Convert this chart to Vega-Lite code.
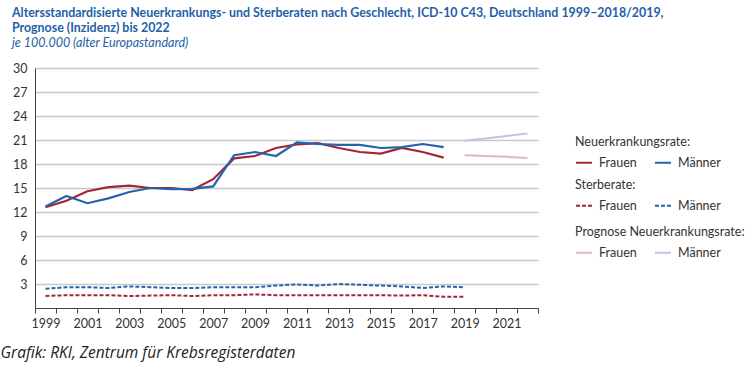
{
  "$schema": "https://vega.github.io/schema/vega-lite/v6.json",
  "autosize": {"type": "none"},
  "width": 503,
  "height": 240,
  "padding": {"left": 35, "top": 68, "right": 218, "bottom": 73},
  "background": "white",
  "config": {
    "view": {"stroke": null},
    "font": "Lato",
    "legend": {
      "orient": "none",
      "direction": "horizontal",
      "columns": 2,
      "symbolType": "stroke",
      "symbolSize": 256,
      "symbolStrokeWidth": 2,
      "labelFontSize": 12.5,
      "labelColor": "#333333",
      "labelOffset": 6,
      "columnPadding": 14,
      "titleFontSize": 12.5,
      "titleFontWeight": "normal",
      "titleColor": "#333333",
      "titlePadding": 5,
      "titleLimit": 250
    }
  },
  "title": {
    "text": ["Altersstandardisierte Neuerkrankungs- und Sterberaten nach Geschlecht, ICD-10 C43, Deutschland 1999–2018/2019,", "Prognose (Inzidenz) bis 2022"],
    "subtitle": "je 100.000 (alter Europastandard)",
    "anchor": "start",
    "frame": "group",
    "dx": -23,
    "offset": 13,
    "font": "Lato",
    "fontSize": 12.4,
    "fontWeight": "bold",
    "color": "#2460a7",
    "lineHeight": 15,
    "subtitleFont": "Lato",
    "subtitleFontSize": 12.5,
    "subtitleFontStyle": "italic",
    "subtitleColor": "#2460a7",
    "subtitlePadding": 2
  },
  "data": {
    "values": [
      {"year": 1999, "value": 12.6, "kind": "inc", "sex": "Frauen"},
      {"year": 2000, "value": 13.4, "kind": "inc", "sex": "Frauen"},
      {"year": 2001, "value": 14.6, "kind": "inc", "sex": "Frauen"},
      {"year": 2002, "value": 15.1, "kind": "inc", "sex": "Frauen"},
      {"year": 2003, "value": 15.3, "kind": "inc", "sex": "Frauen"},
      {"year": 2004, "value": 15.0, "kind": "inc", "sex": "Frauen"},
      {"year": 2005, "value": 15.0, "kind": "inc", "sex": "Frauen"},
      {"year": 2006, "value": 14.75, "kind": "inc", "sex": "Frauen"},
      {"year": 2007, "value": 16.1, "kind": "inc", "sex": "Frauen"},
      {"year": 2008, "value": 18.7, "kind": "inc", "sex": "Frauen"},
      {"year": 2009, "value": 19.0, "kind": "inc", "sex": "Frauen"},
      {"year": 2010, "value": 20.0, "kind": "inc", "sex": "Frauen"},
      {"year": 2011, "value": 20.45, "kind": "inc", "sex": "Frauen"},
      {"year": 2012, "value": 20.6, "kind": "inc", "sex": "Frauen"},
      {"year": 2013, "value": 20.0, "kind": "inc", "sex": "Frauen"},
      {"year": 2014, "value": 19.5, "kind": "inc", "sex": "Frauen"},
      {"year": 2015, "value": 19.3, "kind": "inc", "sex": "Frauen"},
      {"year": 2016, "value": 20.0, "kind": "inc", "sex": "Frauen"},
      {"year": 2017, "value": 19.5, "kind": "inc", "sex": "Frauen"},
      {"year": 2018, "value": 18.8, "kind": "inc", "sex": "Frauen"},
      {"year": 1999, "value": 12.7, "kind": "inc", "sex": "Männer"},
      {"year": 2000, "value": 14.0, "kind": "inc", "sex": "Männer"},
      {"year": 2001, "value": 13.1, "kind": "inc", "sex": "Männer"},
      {"year": 2002, "value": 13.7, "kind": "inc", "sex": "Männer"},
      {"year": 2003, "value": 14.5, "kind": "inc", "sex": "Männer"},
      {"year": 2004, "value": 15.0, "kind": "inc", "sex": "Männer"},
      {"year": 2005, "value": 14.85, "kind": "inc", "sex": "Männer"},
      {"year": 2006, "value": 14.9, "kind": "inc", "sex": "Männer"},
      {"year": 2007, "value": 15.2, "kind": "inc", "sex": "Männer"},
      {"year": 2008, "value": 19.1, "kind": "inc", "sex": "Männer"},
      {"year": 2009, "value": 19.5, "kind": "inc", "sex": "Männer"},
      {"year": 2010, "value": 19.0, "kind": "inc", "sex": "Männer"},
      {"year": 2011, "value": 20.7, "kind": "inc", "sex": "Männer"},
      {"year": 2012, "value": 20.5, "kind": "inc", "sex": "Männer"},
      {"year": 2013, "value": 20.4, "kind": "inc", "sex": "Männer"},
      {"year": 2014, "value": 20.4, "kind": "inc", "sex": "Männer"},
      {"year": 2015, "value": 20.0, "kind": "inc", "sex": "Männer"},
      {"year": 2016, "value": 20.1, "kind": "inc", "sex": "Männer"},
      {"year": 2017, "value": 20.5, "kind": "inc", "sex": "Männer"},
      {"year": 2018, "value": 20.1, "kind": "inc", "sex": "Männer"},
      {"year": 1999, "value": 1.5, "kind": "mort", "sex": "Frauen"},
      {"year": 2000, "value": 1.6, "kind": "mort", "sex": "Frauen"},
      {"year": 2001, "value": 1.6, "kind": "mort", "sex": "Frauen"},
      {"year": 2002, "value": 1.6, "kind": "mort", "sex": "Frauen"},
      {"year": 2003, "value": 1.5, "kind": "mort", "sex": "Frauen"},
      {"year": 2004, "value": 1.55, "kind": "mort", "sex": "Frauen"},
      {"year": 2005, "value": 1.6, "kind": "mort", "sex": "Frauen"},
      {"year": 2006, "value": 1.5, "kind": "mort", "sex": "Frauen"},
      {"year": 2007, "value": 1.6, "kind": "mort", "sex": "Frauen"},
      {"year": 2008, "value": 1.6, "kind": "mort", "sex": "Frauen"},
      {"year": 2009, "value": 1.7, "kind": "mort", "sex": "Frauen"},
      {"year": 2010, "value": 1.6, "kind": "mort", "sex": "Frauen"},
      {"year": 2011, "value": 1.6, "kind": "mort", "sex": "Frauen"},
      {"year": 2012, "value": 1.6, "kind": "mort", "sex": "Frauen"},
      {"year": 2013, "value": 1.6, "kind": "mort", "sex": "Frauen"},
      {"year": 2014, "value": 1.6, "kind": "mort", "sex": "Frauen"},
      {"year": 2015, "value": 1.6, "kind": "mort", "sex": "Frauen"},
      {"year": 2016, "value": 1.55, "kind": "mort", "sex": "Frauen"},
      {"year": 2017, "value": 1.6, "kind": "mort", "sex": "Frauen"},
      {"year": 2018, "value": 1.4, "kind": "mort", "sex": "Frauen"},
      {"year": 2019, "value": 1.4, "kind": "mort", "sex": "Frauen"},
      {"year": 1999, "value": 2.4, "kind": "mort", "sex": "Männer"},
      {"year": 2000, "value": 2.6, "kind": "mort", "sex": "Männer"},
      {"year": 2001, "value": 2.6, "kind": "mort", "sex": "Männer"},
      {"year": 2002, "value": 2.5, "kind": "mort", "sex": "Männer"},
      {"year": 2003, "value": 2.7, "kind": "mort", "sex": "Männer"},
      {"year": 2004, "value": 2.6, "kind": "mort", "sex": "Männer"},
      {"year": 2005, "value": 2.5, "kind": "mort", "sex": "Männer"},
      {"year": 2006, "value": 2.5, "kind": "mort", "sex": "Männer"},
      {"year": 2007, "value": 2.6, "kind": "mort", "sex": "Männer"},
      {"year": 2008, "value": 2.6, "kind": "mort", "sex": "Männer"},
      {"year": 2009, "value": 2.6, "kind": "mort", "sex": "Männer"},
      {"year": 2010, "value": 2.8, "kind": "mort", "sex": "Männer"},
      {"year": 2011, "value": 2.95, "kind": "mort", "sex": "Männer"},
      {"year": 2012, "value": 2.8, "kind": "mort", "sex": "Männer"},
      {"year": 2013, "value": 3.0, "kind": "mort", "sex": "Männer"},
      {"year": 2014, "value": 2.9, "kind": "mort", "sex": "Männer"},
      {"year": 2015, "value": 2.8, "kind": "mort", "sex": "Männer"},
      {"year": 2016, "value": 2.7, "kind": "mort", "sex": "Männer"},
      {"year": 2017, "value": 2.5, "kind": "mort", "sex": "Männer"},
      {"year": 2018, "value": 2.7, "kind": "mort", "sex": "Männer"},
      {"year": 2019, "value": 2.6, "kind": "mort", "sex": "Männer"},
      {"year": 2019, "value": 19.1, "kind": "prog", "sex": "Frauen"},
      {"year": 2020, "value": 19.0, "kind": "prog", "sex": "Frauen"},
      {"year": 2021, "value": 18.9, "kind": "prog", "sex": "Frauen"},
      {"year": 2022, "value": 18.75, "kind": "prog", "sex": "Frauen"},
      {"year": 2019, "value": 20.9, "kind": "prog", "sex": "Männer"},
      {"year": 2020, "value": 21.2, "kind": "prog", "sex": "Männer"},
      {"year": 2021, "value": 21.5, "kind": "prog", "sex": "Männer"},
      {"year": 2022, "value": 21.8, "kind": "prog", "sex": "Männer"}
    ]
  },
  "encoding": {
    "x": {
      "field": "year",
      "type": "ordinal",
      "scale": {
        "domain": [1999, 2000, 2001, 2002, 2003, 2004, 2005, 2006, 2007, 2008, 2009, 2010, 2011, 2012, 2013, 2014, 2015, 2016, 2017, 2018, 2019, 2020, 2021, 2022],
        "paddingInner": 0,
        "paddingOuter": 0
      },
      "axis": {
        "labelAngle": 0,
        "labelExpr": "datum.value % 2 == 1 ? datum.label : ''",
        "tickBand": "extent",
        "tickColor": "#444444",
        "tickSize": 5,
        "domainColor": "#444444",
        "labelColor": "#333333",
        "labelFontSize": 12.5,
        "labelPadding": 4,
        "grid": false,
        "title": "Grafik: RKI, Zentrum für Krebsregisterdaten",
        "titleFont": "Open Sans",
        "titleFontStyle": "italic",
        "titleFontWeight": "normal",
        "titleFontSize": 15.5,
        "titleColor": "#222222",
        "titleAnchor": "start",
        "titleAlign": "left",
        "titleBaseline": "middle",
        "titleX": -35,
        "titleY": 44
      }
    },
    "y": {
      "field": "value",
      "type": "quantitative",
      "scale": {"domain": [0, 30], "nice": false},
      "axis": {
        "values": [3, 6, 9, 12, 15, 18, 21, 24, 27, 30],
        "ticks": false,
        "grid": true,
        "gridColor": "#c8c8c8",
        "gridWidth": 1.5,
        "domainColor": "#444444",
        "labelColor": "#333333",
        "labelFontSize": 12.5,
        "labelPadding": 8,
        "title": null
      }
    }
  },
  "layer": [
    {
      "transform": [{"filter": "datum.kind == 'inc'"}],
      "mark": {"type": "line", "strokeWidth": 2.2},
      "encoding": {
        "color": {
          "field": "sex",
          "type": "nominal",
          "scale": {"domain": ["Frauen", "Männer"], "range": ["#a32638", "#2364ad"]},
          "legend": {"title": "Neuerkrankungsrate:", "legendX": 540, "legendY": 68}
        }
      }
    },
    {
      "transform": [{"filter": "datum.kind == 'mort'"}],
      "mark": {"type": "line", "strokeWidth": 2, "strokeDash": [4, 2]},
      "encoding": {
        "color": {
          "field": "sex",
          "type": "nominal",
          "scale": {"domain": ["Frauen", "Männer"], "range": ["#a32638", "#2364ad"]},
          "legend": {"title": "Sterberate:", "legendX": 540, "legendY": 111, "symbolDash": [4, 2]}
        }
      }
    },
    {
      "transform": [{"filter": "datum.kind == 'prog'"}],
      "mark": {"type": "line", "strokeWidth": 2},
      "encoding": {
        "color": {
          "field": "sex",
          "type": "nominal",
          "scale": {"domain": ["Frauen", "Männer"], "range": ["#dcb9c0", "#b9c7df"]},
          "legend": {"title": "Prognose Neuerkrankungsrate:", "legendX": 540, "legendY": 158}
        }
      }
    }
  ],
  "resolve": {"scale": {"color": "independent"}}
}
